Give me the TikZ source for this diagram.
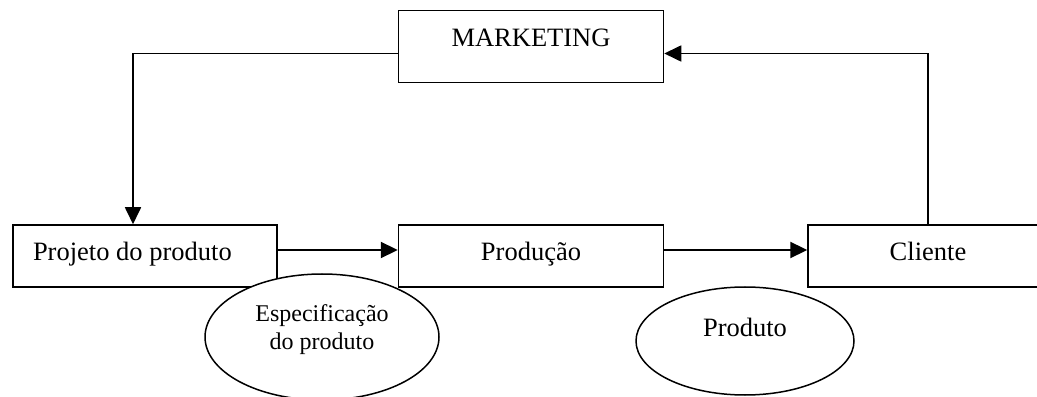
\documentclass[tikz,border=0pt]{standalone}
\usepackage{fontspec}
\setmainfont{Liberation Serif}
\usetikzlibrary{arrows.meta, positioning, shapes.geometric}
\tikzset{
   mybox/.style={draw, line width=.75pt, minimum height=31pt, inner sep=0pt,
      text height=9pt, text depth=4.5pt, font=\fontsize{13.25}{15}\selectfont},
   myoval/.style={draw, ellipse, fill=white, line width=.75pt, inner sep=0pt},
   myflow/.style={line width=1.1pt},
   myloop/.style={line width=.85pt}
}

\begin{document}
\begin{tikzpicture}[-{Triangle[length=8.5pt,width=8pt]}, x=1pt, y=1pt]
      \useasboundingbox (0,0) rectangle (518.5,198);
      \node[mybox, minimum width=132pt, text width=112pt, align=flush left] (proj) at (72.5,70) {Projeto do produto};
      \node[mybox, minimum width=132.5pt, right=60pt of proj] (prod) {Produção};
      \node[mybox, minimum width=120pt, right=71.5pt of prod] (cli) {Cliente};
      \node[mybox, minimum width=132.5pt, minimum height=36pt, text depth=9pt,
         above=70.5pt of prod] (mkt) {MARKETING};
      \draw[myflow] ([yshift=3pt]proj.east) -- ([yshift=3pt]prod.west);
      \draw[myflow] ([yshift=3pt]prod.east) -- ([yshift=3pt]cli.west);
      \draw[myloop] ([yshift=-3.5pt]mkt.west) -| ([xshift=-6pt]proj.north);
      \draw[myloop] (cli.north) |- ([yshift=-3.5pt]mkt.east);
      \node[myoval, minimum width=117pt, minimum height=63pt, align=center,
         font=\fontsize{12}{14}\selectfont, text depth=9.5pt] (spec) at (161,29.5) {Especificação\\do produto};
      \node[myoval, minimum width=109pt, minimum height=54pt, font=\fontsize{13.25}{15}\selectfont,
         text height=9pt, text depth=14pt] (prdt) at (372.5,27.5) {Produto};
      \end{tikzpicture}
\end{document}
